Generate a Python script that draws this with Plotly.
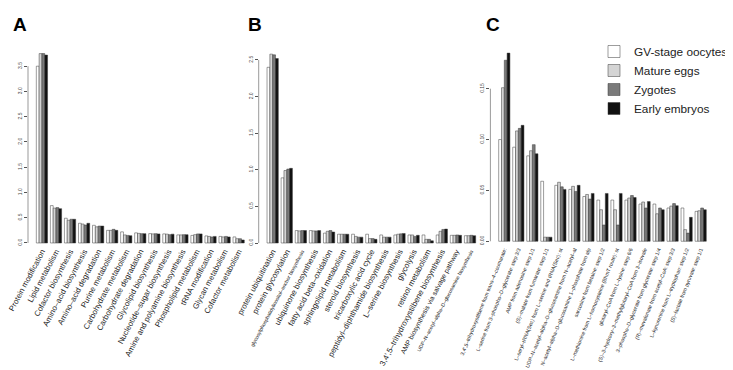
import plotly.graph_objects as go

W, H = 733, 370

series_names = ["GV-stage oocytes", "Mature eggs", "Zygotes", "Early embryos"]
series_colors = ["#ffffff", "#d4d4d4", "#7a7a7a", "#111111"]

# ---------------- Panel A ----------------
a_categories = [
    "Protein modification", "Lipid metabolism", "Cofactor biosynthesis",
    "Amino–acid biosynthesis", "Amino–acid degradation", "Purine metabolism",
    "Carbohydrate metabolism", "Carbohydrate degradation", "Glycolipid biosynthesis",
    "Nucleotide–sugar biosynthesis", "Amine and polyamine biosynthesis",
    "Phospholipid metabolism", "tRNA modification", "Glycan metabolism",
    "Cofactor metabolism",
]
a_gv     = [3.50, 0.74, 0.49, 0.39, 0.35, 0.25, 0.22, 0.20, 0.185, 0.18, 0.16, 0.15, 0.14, 0.13, 0.12]
a_mature = [3.75, 0.69, 0.45, 0.375, 0.32, 0.25, 0.16, 0.19, 0.18, 0.175, 0.16, 0.165, 0.13, 0.12, 0.085]
a_zygote = [3.75, 0.70, 0.47, 0.355, 0.335, 0.27, 0.15, 0.185, 0.185, 0.165, 0.165, 0.18, 0.12, 0.13, 0.085]
a_early  = [3.72, 0.68, 0.47, 0.39, 0.335, 0.25, 0.145, 0.185, 0.18, 0.175, 0.165, 0.18, 0.13, 0.12, 0.06]
a_ticks = [0.0, 0.5, 1.0, 1.5, 2.0, 2.5, 3.0, 3.5]
a_ticktext = ["0.0", "0.5", "1.0", "1.5", "2.0", "2.5", "3.0", "3.5"]

# ---------------- Panel B ----------------
b_categories = [
    "protein ubiquitination", "protein glycosylation",
    "glycosylphosphatidylinositol–anchor biosynthesis",
    "ubiquinone biosynthesis", "fatty acid beta–oxidation", "sphingolipid metabolism",
    "steroid biosynthesis", "tricarboxylic acid cycle",
    "peptidyl–diphthamide biosynthesis", "L–serine biosynthesis", "glycolysis",
    "retinol metabolism", "3,4',5–trihydroxystilbene biosynthesis",
    "AMP biosynthesis via salvage pathway",
    "UDP–N–acetyl–alpha–D–glucosamine biosynthesis",
]
# labels printed in a smaller type in the reference, with their font sizes
b_label_sizes = {
    "glycosylphosphatidylinositol–anchor biosynthesis": 5.0,
    "AMP biosynthesis via salvage pathway": 6.8,
    "UDP–N–acetyl–alpha–D–glucosamine biosynthesis": 5.0,
}
b_gv     = [2.40, 0.89, 0.17, 0.17, 0.135, 0.12, 0.12, 0.12, 0.11, 0.11, 0.11, 0.11, 0.11, 0.105, 0.10]
b_mature = [2.58, 0.99, 0.165, 0.165, 0.16, 0.12, 0.09, 0.06, 0.08, 0.12, 0.11, 0.05, 0.16, 0.105, 0.10]
b_zygote = [2.57, 1.01, 0.17, 0.165, 0.17, 0.12, 0.08, 0.06, 0.08, 0.125, 0.09, 0.05, 0.185, 0.11, 0.105]
b_early  = [2.52, 1.02, 0.17, 0.17, 0.15, 0.12, 0.08, 0.05, 0.08, 0.13, 0.105, 0.03, 0.19, 0.105, 0.10]
b_ticks = [0.0, 0.5, 1.0, 1.5, 2.0, 2.5]
b_ticktext = ["0.0", "0.5", "1.0", "1.5", "2.0", "2.5"]

# ---------------- Panel C ----------------
c_categories = [
    "3,4',5–trihydroxystilbene from trans–4–coumarate:",
    "L–serine from 3–phospho–D–glycerate: step 3/3",
    "AMP from adenosine: step 1/1",
    "(S)–malate from fumarate: step 1/1",
    "L–seryl–tRNA(Sec) from L–serine and tRNA(Sec): st",
    "UDP–N–acetyl–alpha–D–glucosamine from N–acetyl–al",
    "N–acetyl–alpha–D–glucosamine 1–phosphate from alp",
    "sarcosine from betaine: step 1/2",
    "L–methionine from L–homocysteine (BhmT route): st",
    "glutaryl–CoA from L–lysine: step 6/6",
    "(S)–3–hydroxy–3–methylglutaryl–CoA from 3–isovale",
    "3–phospho–D–glycerate from glycerate: step 1/4",
    "(R)–mevalonate from acetyl–CoA: step 3/3",
    "L–kynurenine from L–tryptophan: step 1/2",
    "(S)–lactate from pyruvate: step 1/1",
]
c_gv     = [0.100, 0.0925, 0.084, 0.059, 0.055, 0.051, 0.044, 0.0405, 0.0405, 0.0405, 0.0366, 0.0366, 0.0327, 0.0327, 0.0294]
c_mature = [0.151, 0.1085, 0.089, 0.004, 0.058, 0.054, 0.046, 0.031, 0.031, 0.0425, 0.0386, 0.027, 0.0346, 0.0114, 0.030]
c_zygote = [0.178, 0.111, 0.095, 0.004, 0.0535, 0.049, 0.0415, 0.016, 0.016, 0.045, 0.0327, 0.0327, 0.037, 0.008, 0.0327]
c_early  = [0.185, 0.114, 0.086, 0.004, 0.051, 0.055, 0.047, 0.047, 0.047, 0.043, 0.039, 0.031, 0.035, 0.0235, 0.031]
c_ticks = [0.00, 0.05, 0.10, 0.15]
c_ticktext = ["0.00", "0.05", "0.10", "0.15"]

panel_letters = ["A", "B", "C"]

FONT = "Liberation Sans, Arial, sans-serif"


def px_x(p):
    return p / W


def px_y(p):
    return 1 - p / H


panels = [
    dict(cats=a_categories, vals=[a_gv, a_mature, a_zygote, a_early], ticks=a_ticks,
         ticktext=a_ticktext, xdom=(20.0, 244.6), yrange=(-0.149, 3.90), sizes={},
         fs=7.8, angle=-62, letter_x=12),
    dict(cats=b_categories, vals=[b_gv, b_mature, b_zygote, b_early], ticks=b_ticks,
         ticktext=b_ticktext, xdom=(250.7, 476.0), yrange=(-0.1025, 2.691), sizes=b_label_sizes,
         fs=7.9, angle=-62, letter_x=246.5),
    dict(cats=c_categories, vals=[c_gv, c_mature, c_zygote, c_early], ticks=c_ticks,
         ticktext=c_ticktext, xdom=(482.4, 706.6), yrange=(-0.0091, 0.192), sizes={},
         fs=5.2, angle=-68, letter_x=484.5),
]

fig = go.Figure()
ydom = (px_y(242.5), px_y(38.0))

for i, p in enumerate(panels):
    sfx = "" if i == 0 else str(i + 1)
    for s, (name, col) in enumerate(zip(series_names, series_colors)):
        fig.add_trace(go.Bar(
            x=p["cats"], y=p["vals"][s], name=name,
            marker=dict(color=col, line=dict(color="#3a3a3a", width=0.5)),
            xaxis="x" + sfx, yaxis="y" + sfx,
            showlegend=(i == 0), legendgroup=name,
        ))
    ticktext = []
    for c in p["cats"]:
        if c in p["sizes"]:
            ticktext.append('<span style="font-size:%spx">%s</span>' % (p["sizes"][c], c))
        else:
            ticktext.append(c)
    xa = dict(
        domain=[px_x(p["xdom"][0]), px_x(p["xdom"][1])],
        range=[-0.992, len(p["cats"]) - 1 + 0.992],
        type="category", tickmode="array", tickvals=p["cats"], ticktext=ticktext,
        tickangle=p["angle"], showline=False, showgrid=False, zeroline=False,
        ticks="", ticklabelstandoff=-6,
        tickfont=dict(family=FONT, size=p["fs"], color="#1a1a1a"),
        anchor="y" + sfx, automargin=False, fixedrange=True,
    )
    ya = dict(
        domain=list(ydom), range=list(p["yrange"]),
        tickmode="array", tickvals=p["ticks"], ticktext=p["ticktext"],
        tickangle=-90, ticks="outside", ticklen=3, tickwidth=0.6, tickcolor="#555555",
        tickfont=dict(family=FONT, size=5, color="#444444"),
        showline=False, showgrid=False, zeroline=False,
        anchor="x" + sfx, automargin=False, fixedrange=True,
    )
    fig.update_layout(**{"xaxis" + sfx: xa, "yaxis" + sfx: ya})
    # R-style axis line spanning only from first to last tick
    fig.add_shape(type="line", xref="x" + sfx + " domain", yref="y" + sfx,
                  x0=0, x1=0, y0=p["ticks"][0], y1=p["ticks"][-1],
                  line=dict(color="#555555", width=0.6))
    fig.add_annotation(text="<b>%s</b>" % panel_letters[i], xref="paper", yref="paper",
                       x=px_x(p["letter_x"]), y=px_y(16), xanchor="center", yanchor="middle",
                       showarrow=False, borderpad=0,
                       font=dict(family=FONT, size=19, color="#000000"))

fig.update_layout(
    width=W, height=H, margin=dict(l=0, r=0, t=0, b=0),
    paper_bgcolor="white", plot_bgcolor="white",
    barmode="group", bargap=0.2, bargroupgap=0.0,
    legend=dict(x=px_x(586), y=px_y(29), xanchor="left", yanchor="top",
                font=dict(family=FONT, size=11.8, color="#222222"),
                bgcolor="rgba(0,0,0,0)", borderwidth=0, tracegroupgap=0,
                itemclick=False, itemdoubleclick=False),
    showlegend=True,
)

fig.write_html("out.html")
